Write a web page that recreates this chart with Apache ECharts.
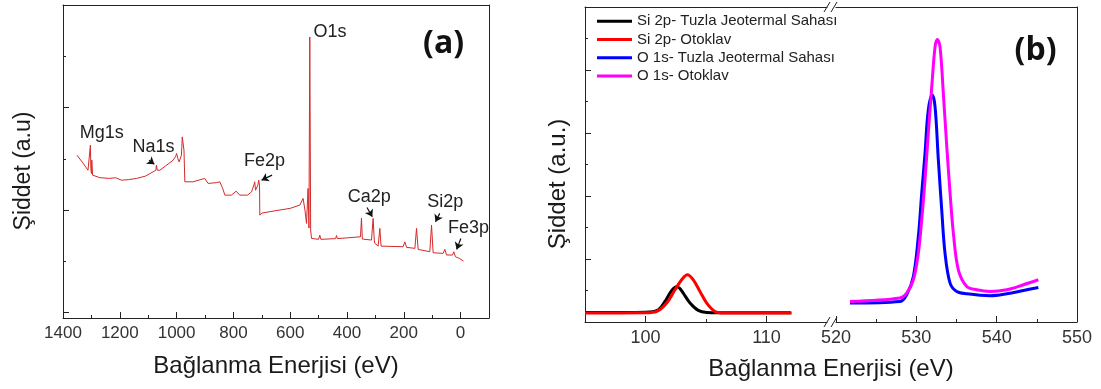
<!DOCTYPE html>
<html><head><meta charset="utf-8">
<script src="https://cdn.jsdelivr.net/npm/echarts@6/dist/echarts.min.js"></script>
<style>html,body{margin:0;padding:0;background:#fff}#c{width:1101px;height:389px}</style>
</head><body><div id="c"></div>
<script>
// ---------- Panel (a): survey spectrum ----------
const surveyEnergy = [1351,1330,1312,1306,1303.5,1302,1300,1298.5,1296,1294,1270,1236,1215,1194,1170,1141,1110,1083,1073,1071,1068,1059,1040,1012,1003,1000,996,991,983,980,977,974,971,942,901,895,889,860,848,838,830,807,790,784,778,772,750,736,727,725,722,719,714,711,708,707,700,650,600,566,554.6,548,542.6,537,534,531,528,525,500,496,492,440,437,434,378.5,352.5,349,346,313.7,308,304,302,290.4,284.4,280,202.4,196.4,190.4,161,155.2,149.5,108.4,102.4,96.7,61.5,55.5,49.5,28.4,24,18,5,-10];
const surveyIntensity = [1.536,1.46,1.389,1.37,1.633,1.409,1.357,1.487,1.341,1.324,1.316,1.309,1.316,1.292,1.297,1.309,1.331,1.373,1.389,1.438,1.389,1.389,1.428,1.487,1.526,1.552,1.506,1.470,1.536,1.714,1.714,1.584,1.276,1.276,1.309,1.292,1.260,1.268,1.276,1.214,1.146,1.146,1.185,1.194,1.146,1.129,1.146,1.178,1.253,1.276,1.194,1.178,1.243,1.292,1.243,0.951,0.971,0.995,1.017,1.049,1.114,1.000,0.870,1.211,0.825,2.688,0.805,0.724,0.715,0.757,0.715,0.722,0.752,0.722,0.734,0.740,0.922,0.718,0.708,0.919,0.708,0.676,0.649,0.822,0.649,0.643,0.691,0.637,0.627,0.822,0.617,0.594,0.854,0.584,0.578,0.617,0.562,0.562,0.594,0.545,0.530,0.503];
const surveyXTicks = [0,200,400,600,800,1000,1200,1400];
const surveyXMinorTicks = [100,300,500,700,900,1100,1300];
const surveyYTicks = [0,1,2,3];
const surveyYMinorTicks = [0.5,1.5,2.5];
const peakNames = ['O1s','Mg1s','Na1s','Fe2p','Ca2p','Si2p','Fe3p'];
const peakLabelEnergy = [460,1263.7,1081.6,690.2,321.4,54.1,-27.6];
const peakLabelIntensity = [2.736,1.747,1.616,1.480,1.124,1.081,0.828];

// ---------- Panel (b): high resolution ----------
const si2pTuzlaEnergy   = [95,98,100,101.06,101.61,102.02,102.3,102.58,102.85,103.12,103.68,104.36,105.06,106,108,110,112];
const si2pTuzla         = [0.152,0.152,0.155,0.195,0.326,0.46,0.53,0.564,0.53,0.46,0.301,0.184,0.152,0.148,0.148,0.148,0.148];
const si2pOtoklavEnergy = [95,98,100,100.93,101.75,102.44,102.99,103.46,103.95,104.5,105.06,105.74,106.43,108,110,112.08];
const si2pOtoklav       = [0.143,0.143,0.145,0.168,0.301,0.512,0.670,0.75,0.670,0.485,0.301,0.168,0.143,0.143,0.143,0.143];
const o1sTuzlaEnergy    = [521.74,527.97,528.80,529.63,530.25,530.67,531.08,531.49,531.99,532.33,532.74,533.16,533.57,534.20,535.03,536.28,539.18,541.26,543.33,545.19];
const o1sTuzla          = [0.301,0.326,0.433,0.723,1.357,2.044,2.678,3.365,3.602,3.417,2.572,1.780,1.094,0.618,0.485,0.448,0.417,0.448,0.501,0.548];
const o1sOtoklavEnergy  = [521.74,527.97,528.80,529.63,530.25,530.67,531.08,531.49,531.92,532.33,532.62,532.95,533.36,533.79,534.20,534.61,535.23,536.28,537.52,539.18,541.26,543.33,545.19];
const o1sOtoklav        = [0.326,0.380,0.460,0.670,1.094,1.621,2.255,2.995,3.734,4.368,4.485,4.368,3.629,2.783,2.044,1.410,0.829,0.564,0.512,0.485,0.512,0.591,0.670];
const seriesNames = ['Si 2p- Tuzla Jeotermal Sahası','Si 2p- Otoklav','O 1s- Tuzla Jeotermal Sahası','O 1s- Otoklav'];
const bLeftLabels = [100,110];
const bLeftMinor = [105];
const bRightLabels = [520,530,540,550];
const bRightMinor = [525,535,545];
const bYTicks = [0,1,2,3,4,5];
const bYMinor = [0.5,1.5,2.5,3.5,4.5];

// annotation arrows (data coordinates of panel a)
const arrows = [
  {from:[1097,1.487], to:[1078.4,1.448]},
  {from:[663.8,1.341], to:[700.8,1.292]},
  {from:[329.6,1.026], to:[310.9,0.935]},
  {from:[73.5,0.968],  to:[88.3,0.886]},
  {from:[-0.9,0.724],  to:[13.9,0.617]}
];

const FONT = '"Liberation Sans", Arial, sans-serif';
const AX = '#222';
const zip = (xs, ys) => xs.map((x, i) => [x, ys[i]]);

function xAx(grid, min, max, opts) {
  return Object.assign({
    type: 'value', gridIndex: grid, min: min, max: max, position: 'bottom',
    axisLine: {show: true, onZero: false, lineStyle: {color: AX, width: 1}},
    axisTick: {show: false},
    axisLabel: {show: false},
    splitLine: {show: false}
  }, opts || {});
}
function yAx(grid, min, max, opts) {
  return Object.assign({
    type: 'value', gridIndex: grid, min: min, max: max, position: 'left',
    axisLine: {show: true, onZero: false, lineStyle: {color: AX, width: 1}},
    axisTick: {show: false},
    axisLabel: {show: false},
    splitLine: {show: false}
  }, opts || {});
}
const tick = (vals, len) => ({show: true, inside: true, length: len, customValues: vals, lineStyle: {color: AX, width: 1}});
const lab = (vals, size) => ({show: true, customValues: vals, fontSize: size, color: '#333', margin: 7, fontFamily: FONT, formatter: v => String(v)});
const noLine = {show: false, onZero: false};

const chart = echarts.init(document.getElementById('c'), null, {renderer: 'canvas'});
chart.setOption({
  animation: false,
  backgroundColor: '#fff',
  grid: [
    {left: 63, top: 5, width: 426, height: 313},
    {left: 585, top: 7, width: 242, height: 315},
    {left: 836, top: 7, width: 241, height: 315}
  ],
  xAxis: [
    xAx(0, -100, 1400, {inverse: true, axisTick: tick(surveyXTicks, 6), axisLabel: lab(surveyXTicks, 17)}),
    xAx(0, -100, 1400, {inverse: true, axisLine: noLine, axisTick: tick(surveyXMinorTicks, 3)}),
    xAx(0, -100, 1400, {inverse: true, position: 'top'}),
    xAx(1, 95, 115, {axisTick: tick(bLeftLabels, 6), axisLabel: lab(bLeftLabels, 18)}),
    xAx(1, 95, 115, {axisLine: noLine, axisTick: tick(bLeftMinor, 3)}),
    xAx(1, 95, 115, {position: 'top'}),
    xAx(2, 520, 550, {axisTick: tick(bRightLabels, 6), axisLabel: lab(bRightLabels, 18)}),
    xAx(2, 520, 550, {axisLine: noLine, axisTick: tick(bRightMinor, 3)}),
    xAx(2, 520, 550, {position: 'top'})
  ],
  yAxis: [
    yAx(0, -0.052, 3, {axisTick: tick(surveyYTicks, 6)}),
    yAx(0, -0.052, 3, {axisLine: noLine, axisTick: tick(surveyYMinorTicks, 3)}),
    yAx(0, -0.052, 3, {position: 'right'}),
    yAx(1, 0, 5, {axisTick: tick(bYTicks, 6)}),
    yAx(1, 0, 5, {axisLine: noLine, axisTick: tick(bYMinor, 3)}),
    yAx(2, 0, 5, {position: 'right'})
  ],
  legend: {
    data: seriesNames, orient: 'vertical', left: 597, top: 12, padding: 0,
    icon: 'rect', itemWidth: 35, itemHeight: 3, itemGap: 0, selectedMode: false,
    textStyle: {fontSize: 15, lineHeight: 18.3, color: '#222', fontFamily: FONT}
  },
  series: [
    {
      name: 'survey', type: 'line', xAxisIndex: 0, yAxisIndex: 0,
      data: zip(surveyEnergy, surveyIntensity), showSymbol: false, silent: true,
      lineStyle: {color: '#d42a2a', width: 1}, itemStyle: {color: '#d42a2a'},
      markPoint: {
        symbol: 'circle', symbolSize: 1, silent: true,
        itemStyle: {color: 'rgba(0,0,0,0)'},
        label: {show: true, position: 'inside', formatter: '{b}', color: '#222', fontSize: 18, fontFamily: FONT},
        data: peakNames.map((n, i) => ({name: n, coord: [peakLabelEnergy[i], peakLabelIntensity[i]]}))
      },
      markLine: {
        silent: true, symbol: ['none', 'arrow'], symbolSize: 7,
        lineStyle: {color: '#111', width: 1.2, type: 'solid'},
        label: {show: false},
        data: arrows.map(a => [{coord: a.from}, {coord: a.to}])
      }
    },
    {name: seriesNames[0], type: 'line', xAxisIndex: 3, yAxisIndex: 3, data: zip(si2pTuzlaEnergy, si2pTuzla),
     showSymbol: false, smooth: 0.35, lineStyle: {color: '#000', width: 3}, itemStyle: {color: '#000'}},
    {name: seriesNames[1], type: 'line', xAxisIndex: 3, yAxisIndex: 3, data: zip(si2pOtoklavEnergy, si2pOtoklav),
     showSymbol: false, smooth: 0.35, lineStyle: {color: '#ff0000', width: 3}, itemStyle: {color: '#ff0000'}},
    {name: seriesNames[2], type: 'line', xAxisIndex: 6, yAxisIndex: 5, data: zip(o1sTuzlaEnergy, o1sTuzla),
     showSymbol: false, smooth: 0.35, lineStyle: {color: '#0000ff', width: 3}, itemStyle: {color: '#0000ff'}},
    {name: seriesNames[3], type: 'line', xAxisIndex: 6, yAxisIndex: 5, data: zip(o1sOtoklavEnergy, o1sOtoklav),
     showSymbol: false, smooth: 0.35, lineStyle: {color: '#ff00ff', width: 3}, itemStyle: {color: '#ff00ff'}}
  ]
});

// decorations: axis titles, panel letters, axis-break marks
const g1r = 585 + 242;
const slash = (x, y) => ({type: 'line', shape: {x1: x - 3, y1: y + 5, x2: x + 3, y2: y - 5}, style: {stroke: AX, lineWidth: 1}, silent: true});
chart.setOption({
  graphic: [
    {type: 'text', x: 276, y: 366, silent: true, style: {text: 'Bağlanma Enerjisi (eV)', font: '24px ' + FONT, fill: '#1a1a1a', align: 'center', verticalAlign: 'middle'}},
    {type: 'text', x: 831, y: 369, silent: true, style: {text: 'Bağlanma Enerjisi (eV)', font: '24px ' + FONT, fill: '#1a1a1a', align: 'center', verticalAlign: 'middle'}},
    {type: 'text', x: 23.5, y: 171, rotation: Math.PI / 2, silent: true, style: {text: 'Şiddet (a.u)', font: '23px ' + FONT, fill: '#1a1a1a', align: 'center', verticalAlign: 'middle'}},
    {type: 'text', x: 558, y: 184, rotation: Math.PI / 2, silent: true, style: {text: 'Şiddet (a.u.)', font: '24px ' + FONT, fill: '#1a1a1a', align: 'center', verticalAlign: 'middle'}},
    {type: 'text', x: 443.6, y: 44, silent: true, style: {text: '(a)', font: 'bold 32px "Open Sans", sans-serif', fill: '#111', align: 'center', verticalAlign: 'middle'}},
    {type: 'text', x: 1035.5, y: 51, silent: true, style: {text: '(b)', font: 'bold 32px "Open Sans", sans-serif', fill: '#111', align: 'center', verticalAlign: 'middle'}},
    slash(g1r, 322), slash(g1r + 7, 322), slash(g1r, 7), slash(g1r + 7, 7)
  ]
});
</script>
</body></html>
